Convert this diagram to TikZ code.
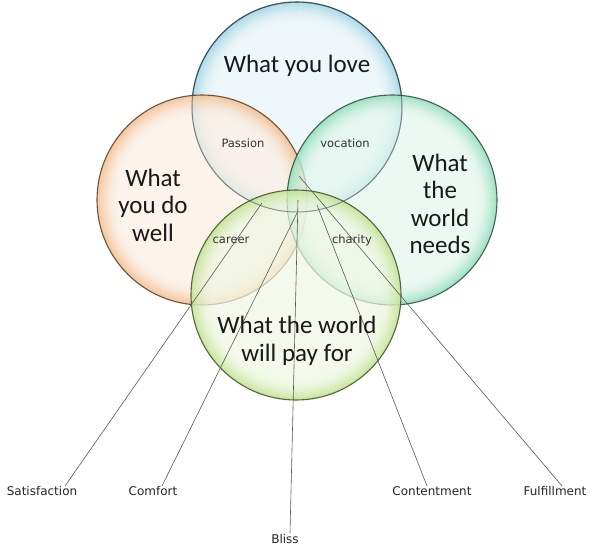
\documentclass[tikz,border=0pt]{standalone}
\usepackage{fontspec}
\setmainfont{Carlito}
\newfontfamily\smallfont{DejaVu Sans}
\usetikzlibrary{calc}
\definecolor{topC}{HTML}{86CBDF}
\definecolor{leftC}{HTML}{F2AE72}
\definecolor{rightC}{HTML}{76D6A8}
\definecolor{botC}{HTML}{B2DC74}
\begin{document}
\begin{tikzpicture}[x=1pt,y=-1pt,
  mainlab/.style={font=\fontsize{25}{27.5}\selectfont, text=black!90, align=center, inner sep=0pt},
  smalllab/.style={font=\smallfont\fontsize{11.5}{13}\selectfont, text=black!80, inner sep=0pt},
  endlab/.style={font=\smallfont\fontsize{12}{14}\selectfont, text=black!85, inner sep=0pt},
  conn/.style={draw=black!65, line width=0.6pt},
  rimline/.style={line width=1.1pt, draw opacity=0.85}]
\fill[white] (0,0) rectangle (594,552);
\useasboundingbox (0,0) rectangle (594,552);
% circles
\coordinate (cT) at (297,107);
\coordinate (cL) at (202,200);
\coordinate (cR) at (392,200);
\coordinate (cB) at (296,295);
\foreach \cc/\col in {cT/topC, cL/leftC, cR/rightC, cB/botC}{
  \fill[\col!20, fill opacity=0.7] (\cc) circle[radius=105pt];
  \foreach \i in {1,...,14}{
    \pgfmathsetmacro{\rr}{104.25-1.5*(\i-1)}
    \pgfmathsetmacro{\op}{0.62*(1-(\i-1)/14)^2}
    \draw[\col, line width=1.55pt, draw opacity=\op] (\cc) circle[radius=\rr pt];
  }
  \draw[\col!35!black, rimline] (\cc) circle[radius=105pt];
}
\draw[topC!35!black, line width=1pt, draw opacity=0.5] (cT) circle[radius=105pt];
% end labels
\node[endlab] (sat) at (42,491) {Satisfaction};
\node[endlab] (com) at (153,491) {Comfort};
\node[endlab] (bli) at (285,539) {Bliss};
\node[endlab] (con) at (432,491) {Contentment};
\node[endlab] (ful) at (555,491) {Fulfillment};
% connector ends
\coordinate (sTop) at (262,203);
\coordinate (sBot) at (65,486);
\coordinate (cTop) at (297,213);
\coordinate (cBot) at (162,486);
\coordinate (bTop) at (298,200);
\coordinate (bBot) at (290,533);
\coordinate (nTop) at (317,205);
\coordinate (nBot) at (427,486);
\coordinate (fTop) at (299,176);
\coordinate (fBot) at (562,486);
\draw[conn] (sTop) -- (sBot);
\draw[conn] (cTop) -- (cBot);
\draw[conn] (bTop) -- (bBot);
\draw[conn] (nTop) -- (nBot);
\draw[conn] (fTop) -- (fBot);
% main labels
\node[mainlab] (love) at (297,66) {What you love};
\node[mainlab] (well) at (153,205) {What\\you do\\well};
\node[mainlab] (needs) at (440,204) {What\\the\\world\\needs};
\node[mainlab] (pay) at (297,341) {What the world\\will pay for};
% small labels
\node[smalllab] (pas) at (243,143) {Passion};
\node[smalllab] (voc) at (345,143) {vocation};
\node[smalllab] (car) at (231,240) {career};
\node[smalllab] (cha) at (352,240) {charity};
\end{tikzpicture}
\end{document}
